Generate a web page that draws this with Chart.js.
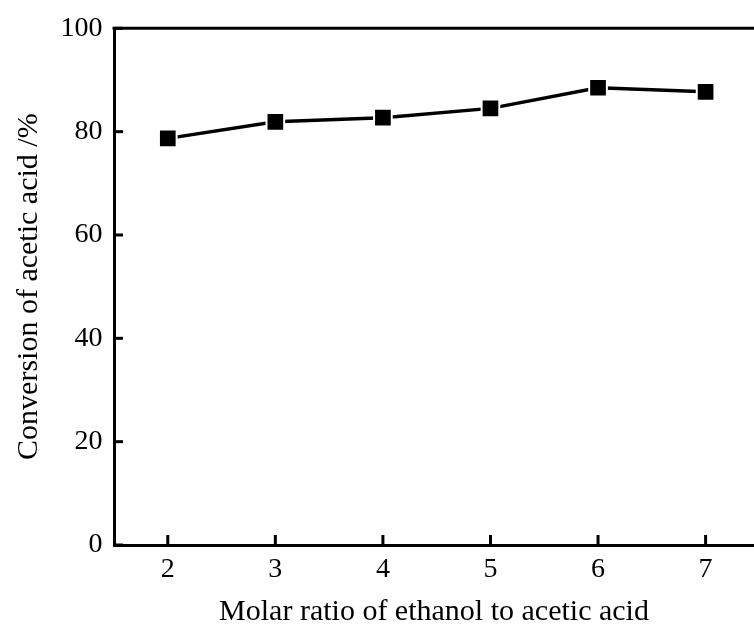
<!DOCTYPE html>
<html>
<head>
<meta charset="utf-8">
<script src="https://cdn.jsdelivr.net/npm/chart.js@4/dist/chart.umd.min.js"></script>
<style>
  html, body { margin: 0; padding: 0; background: #fff; }
  #wrap { width: 754px; height: 630px; }
</style>
</head>
<body>
<div id="wrap"><canvas id="chart"></canvas></div>
<script>
// data
const molarRatio = [2, 3, 4, 5, 6, 7];
const conversion = [78.7, 81.9, 82.7, 84.5, 88.5, 87.7];
const xTicks = [2, 3, 4, 5, 6, 7];
const yTicks = [0, 20, 40, 60, 80, 100];

const serif = '"Liberation Serif", "Times New Roman", serif';

// inward ticks + top frame line
const frame = {
  id: 'frame',
  afterDraw(chart) {
    const { ctx, chartArea: a, scales } = chart;
    ctx.save();
    ctx.strokeStyle = '#000';
    ctx.lineWidth = 3;
    ctx.beginPath();
    ctx.moveTo(a.left - 1.5, a.top);
    ctx.lineTo(a.right, a.top);
    ctx.stroke();
    ctx.lineWidth = 3;
    xTicks.forEach(v => {
      const px = scales.x.getPixelForValue(v);
      ctx.beginPath();
      ctx.moveTo(px, a.bottom);
      ctx.lineTo(px, a.bottom - 10);
      ctx.stroke();
    });
    yTicks.forEach(v => {
      const py = scales.y.getPixelForValue(v);
      ctx.beginPath();
      ctx.moveTo(a.left, py);
      ctx.lineTo(a.left + 9, py);
      ctx.stroke();
    });
    ctx.restore();
  }
};

new Chart(document.getElementById('chart'), {
  type: 'line',
  data: {
    datasets: [{
      data: molarRatio.map((x, i) => ({ x, y: conversion[i] })),
      borderColor: '#000',
      borderWidth: 3.5,
      pointStyle: 'rect',
      pointRadius: 12.5,
      pointBackgroundColor: '#000',
      pointBorderColor: '#fff',
      pointBorderWidth: 2,
      tension: 0
    }]
  },
  options: {
    responsive: true,
    maintainAspectRatio: false,
    animation: false,
    layout: { autoPadding: false, padding: { top: 27, right: 0, left: 0, bottom: 0 } },
    plugins: { legend: { display: false }, tooltip: { enabled: false } },
    scales: {
      x: {
        type: 'linear',
        min: 1.5,
        max: 7.45,
        afterBuildTicks: s => { s.ticks = xTicks.map(v => ({ value: v })); },
        afterFit: s => { s.height = 85; },
        grid: { display: false, drawTicks: false },
        border: { display: true, color: '#000', width: 3 },
        ticks: { color: '#000', padding: 8, font: { family: serif, size: 28 } },
        title: {
          display: true,
          text: 'Molar ratio of ethanol to acetic acid',
          color: '#000',
          padding: { top: 0, bottom: 0 },
          font: { family: serif, size: 30 }
        }
      },
      y: {
        min: 0,
        max: 100,
        afterBuildTicks: s => { s.ticks = yTicks.map(v => ({ value: v })); },
        afterFit: s => { s.width = 114; },
        grid: { display: false, drawTicks: false },
        border: { display: true, color: '#000', width: 3 },
        ticks: { color: '#000', padding: 11.5, font: { family: serif, size: 28 } },
        title: {
          display: true,
          text: 'Conversion of acetic acid /%',
          color: '#000',
          padding: { top: 11, bottom: 0 },
          font: { family: serif, size: 30 }
        }
      }
    }
  },
  plugins: [frame]
});
</script>
</body>
</html>
